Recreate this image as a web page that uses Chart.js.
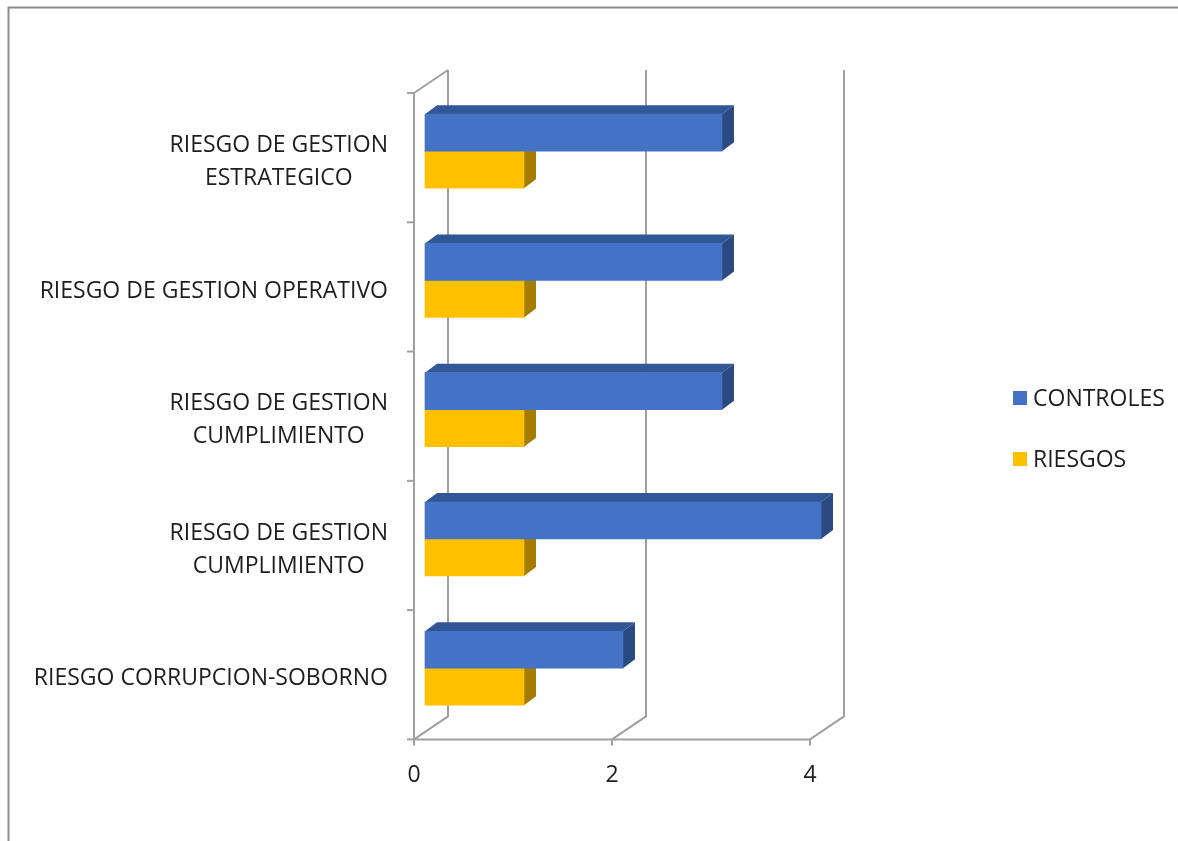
<!DOCTYPE html>
<html><head><meta charset="utf-8">
<script src="https://cdn.jsdelivr.net/npm/chart.js@4.4.0/dist/chart.umd.min.js"></script>
<style>html,body{margin:0;padding:0;background:#fff;overflow:hidden}#wrap{width:1178px;height:841px;position:relative}canvas{display:block}</style>
</head><body><div id="wrap"><canvas id="c" width="1178" height="841"></canvas></div>
<script>
const categories = [
  ['RIESGO DE GESTION', 'ESTRATEGICO'],
  ['RIESGO DE GESTION OPERATIVO'],
  ['RIESGO DE GESTION', 'CUMPLIMIENTO'],
  ['RIESGO DE GESTION', 'CUMPLIMIENTO'],
  ['RIESGO CORRUPCION-SOBORNO']
];
const controles = [3, 3, 3, 4, 2];
const riesgos = [1, 1, 1, 1, 1];
const seriesNames = ['CONTROLES', 'RIESGOS'];
const xTicks = [0, 2, 4];

const FONT = '"Open Sans", sans-serif';
const FSIZE = 23;
const TEXT = '#1e1e1e';
const GRID = '#a0a0a0';
const BACK = {x: 34, y: -23};   // depth of the floor / walls
const FACE = {x: 11, y: -6.5};  // bar front plane relative to front wall plane
const BDEPTH = {x: 12, y: -9};  // bar depth
const COLORS = [
  {front: '#4472C4', top: '#325797', side: '#2a4a82'},
  {front: '#FFC000', top: '#c99700', side: '#a67c00'}
];

function line(ctx, pts) {
  ctx.beginPath();
  ctx.moveTo(pts[0][0], pts[0][1]);
  for (let i = 1; i < pts.length; i++) ctx.lineTo(pts[i][0], pts[i][1]);
  ctx.stroke();
}
function poly(ctx, pts, color) {
  ctx.beginPath();
  ctx.moveTo(pts[0][0], pts[0][1]);
  for (let i = 1; i < pts.length; i++) ctx.lineTo(pts[i][0], pts[i][1]);
  ctx.closePath();
  ctx.fillStyle = color;
  ctx.fill();
}

const threeD = {
  id: 'threeD',
  beforeDatasetsDraw(chart) {
    const ctx = chart.ctx;
    const xs = chart.scales.x, ys = chart.scales.y;
    const ca = chart.chartArea;
    ctx.save();
    // outer frame (top and left)
    ctx.strokeStyle = '#8c8c8c';
    ctx.lineWidth = 2;
    line(ctx, [[8.5, 841], [8.5, 7.5], [1178, 7.5]]);

    ctx.strokeStyle = GRID;
    ctx.lineWidth = 2;
    ctx.lineCap = 'butt';
    // gridlines on back wall + floor
    xTicks.forEach(v => {
      const px = xs.getPixelForValue(v);
      line(ctx, [[px, ca.bottom], [px + BACK.x, ca.bottom + BACK.y], [px + BACK.x, ca.top + BACK.y]]);
      line(ctx, [[px, ca.bottom], [px, ca.bottom + 6]]);
    });
    // left wall edges
    line(ctx, [[ca.left, ca.top], [ca.left + BACK.x, ca.top + BACK.y]]);
    line(ctx, [[ca.left, ca.top], [ca.left, ca.bottom], [xs.getPixelForValue(xTicks[xTicks.length - 1]), ca.bottom]]);
    // category tick marks
    const band = ys.getPixelForValue(1) - ys.getPixelForValue(0);
    for (let i = 0; i <= categories.length; i++) {
      const y = ys.getPixelForValue(0) - band / 2 + i * band;
      line(ctx, [[ca.left - 7, y], [ca.left, y]]);
    }
    ctx.restore();

    // bar extrusions, then shift so library front faces land on the bar plane
    ctx.save();
    ctx.translate(FACE.x, FACE.y);
    for (let d = chart.data.datasets.length - 1; d >= 0; d--) {
      const meta = chart.getDatasetMeta(d);
      const c = COLORS[d];
      meta.data.forEach(bar => {
        const p = bar.getProps(['x', 'y', 'base', 'height'], true);
        const l = Math.min(p.base, p.x), r = Math.max(p.base, p.x);
        const t = p.y - p.height / 2, b = p.y + p.height / 2;
        poly(ctx, [[l, t], [l + BDEPTH.x, t + BDEPTH.y], [r + BDEPTH.x, t + BDEPTH.y], [r, t]], c.top);
        poly(ctx, [[r, t], [r + BDEPTH.x, t + BDEPTH.y], [r + BDEPTH.x, b + BDEPTH.y], [r, b]], c.side);
      });
    }
  },
  afterDatasetsDraw(chart) {
    chart.ctx.restore();
  },
  afterDraw(chart) {
    const ctx = chart.ctx;
    const ys = chart.scales.y;
    const ca = chart.chartArea;
    ctx.save();
    ctx.font = FSIZE + 'px ' + FONT;
    ctx.fillStyle = TEXT;
    ctx.textBaseline = 'alphabetic';
    ctx.textAlign = 'center';
    const cap = FSIZE * 0.714;
    const lh = 33;
    const rightEdge = ca.left - 26;
    categories.forEach((lines, i) => {
      const cy = ys.getPixelForValue(i) + 2.5;
      const w = Math.max(...lines.map(s => ctx.measureText(s).width));
      const cx = rightEdge - w / 2;
      lines.forEach((s, k) => {
        const y = cy + (k - (lines.length - 1) / 2) * lh + cap / 2;
        ctx.fillText(s, cx, y);
      });
    });
    // legend
    const leg = [{y: 398}, {y: 459}];
    ctx.textAlign = 'left';
    seriesNames.forEach((n, i) => {
      ctx.fillStyle = COLORS[i].front;
      ctx.fillRect(1013, leg[i].y - 7, 14, 14);
      ctx.fillStyle = TEXT;
      ctx.fillText(n, 1033, leg[i].y + cap / 2);
    });
    ctx.restore();
  }
};

new Chart(document.getElementById('c'), {
  type: 'bar',
  data: {
    labels: categories,
    datasets: [
      {label: seriesNames[0], data: controles, backgroundColor: COLORS[0].front, borderWidth: 0, clip: false},
      {label: seriesNames[1], data: riesgos, backgroundColor: COLORS[1].front, borderWidth: 0, clip: false}
    ]
  },
  options: {
    indexAxis: 'y',
    responsive: false,
    animation: false,
    devicePixelRatio: 1,
    events: [],
    layout: {padding: {left: 414, right: 368, top: 93, bottom: 30}},
    datasets: {bar: {barThickness: 37}},
    plugins: {legend: {display: false}, tooltip: {enabled: false}},
    scales: {
      x: {
        type: 'linear', min: 0, max: 4,
        afterBuildTicks: s => { s.ticks = xTicks.map(v => ({value: v})); },
        grid: {display: false, drawTicks: false, tickLength: 0},
        border: {display: false},
        ticks: {font: {family: FONT, size: FSIZE}, color: TEXT, padding: 22, maxRotation: 0, autoSkip: false}
      },
      y: {
        type: 'category', display: false, offset: true,
        grid: {display: false}
      }
    }
  },
  plugins: [threeD]
});
</script>
</body></html>
